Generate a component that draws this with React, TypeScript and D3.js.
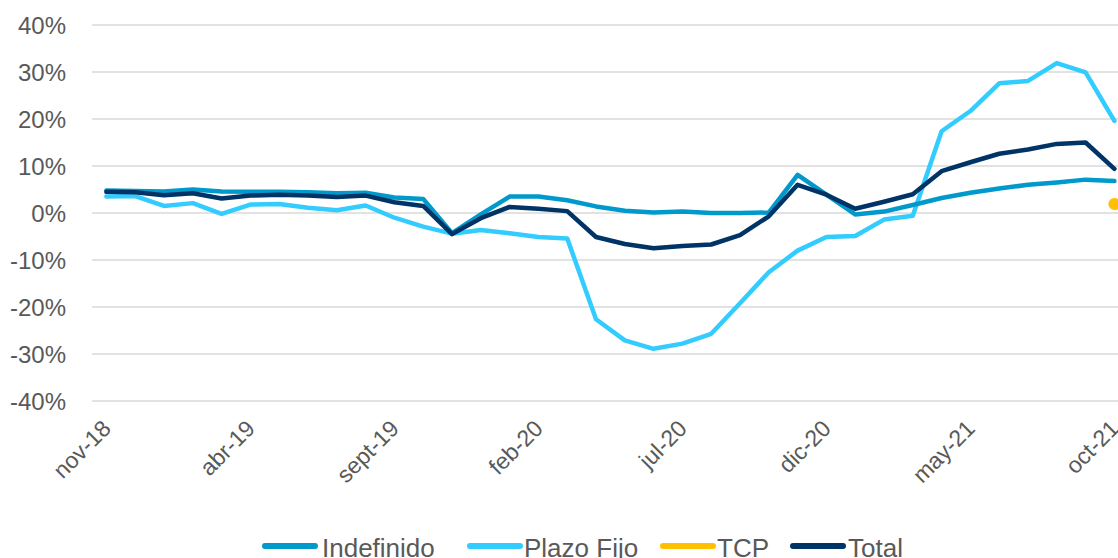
import React from "react";
import * as d3 from "d3";

const months = [
  "nov-18","dic-18","ene-19","feb-19","mar-19","abr-19","may-19","jun-19","jul-19","ago-19","sept-19","oct-19",
  "nov-19","dic-19","ene-20","feb-20","mar-20","abr-20","may-20","jun-20","jul-20","ago-20","sept-20","oct-20",
  "nov-20","dic-20","ene-21","feb-21","mar-21","abr-21","may-21","jun-21","jul-21","ago-21","sept-21","oct-21",
];
const tickLabels = ["nov-18","abr-19","sept-19","feb-20","jul-20","dic-20","may-21","oct-21"];
const yTicks = [40, 30, 20, 10, 0, -10, -20, -30, -40];

const indefinido = [4.8,4.7,4.6,5.0,4.6,4.5,4.5,4.4,4.2,4.3,3.3,3.0,-4.3,-0.3,3.5,3.5,2.7,1.4,0.5,0.1,0.3,0.0,0.0,0.1,8.1,3.9,-0.3,0.3,1.7,3.2,4.3,5.2,6.0,6.5,7.1,6.8];
const plazoFijo = [3.5,3.6,1.5,2.1,-0.2,1.8,1.9,1.1,0.6,1.6,-1.0,-2.9,-4.4,-3.6,-4.3,-5.1,-5.4,-22.6,-27.1,-28.9,-27.8,-25.7,-19.2,-12.6,-8.0,-5.1,-4.9,-1.4,-0.6,17.4,21.7,27.6,28.1,31.9,29.9,19.6];
const tcp: (number | null)[] = [null,null,null,null,null,null,null,null,null,null,null,null,null,null,null,null,null,null,null,null,null,null,null,null,null,null,null,null,null,null,null,null,null,null,null,1.9];
const total = [4.5,4.4,3.8,4.2,3.1,3.7,3.9,3.7,3.4,3.7,2.3,1.5,-4.5,-1.1,1.3,0.9,0.4,-5.1,-6.6,-7.5,-7.0,-6.7,-4.7,-0.7,6.0,3.9,0.9,2.4,4.0,8.9,10.8,12.6,13.5,14.7,15.0,9.4];

const seriesNames = ["Indefinido", "Plazo Fijo", "TCP", "Total"];
const colors = ["#0099CC", "#33CCFF", "#FFC000", "#003366"];

export default function App() {
  const W = 1118, H = 558;
  const left = 92, plotW = 36 * 28.8;
  const x = d3.scalePoint<string>().domain(months).range([left, left + plotW]).padding(0.5);
  const y = d3.scaleLinear().domain([-40, 40]).range([401, 25]);
  const line = d3.line<number>().x((_, i) => x(months[i]) as number).y((d) => y(d));
  const lines = [
    { name: "Plazo Fijo", data: plazoFijo, color: colors[1] },
    { name: "Indefinido", data: indefinido, color: colors[0] },
    { name: "Total", data: total, color: colors[3] },
  ];
  const fmt = (v: number) => `${v}%`;
  const legendItems = [
    { name: seriesNames[0], color: colors[0], lx: 262, tx: 322 },
    { name: seriesNames[1], color: colors[1], lx: 467, tx: 524 },
    { name: seriesNames[2], color: colors[2], lx: 660, tx: 717 },
    { name: seriesNames[3], color: colors[3], lx: 790, tx: 848 },
  ];
  return (
    <svg width={W} height={H} style={{ position: "absolute", left: 0, top: 0, background: "#fff" }}
      fontFamily="'Liberation Sans', Arial, sans-serif">
      {yTicks.map((t) => (
        <g key={t}>
          <line x1={left} x2={left + plotW} y1={y(t)} y2={y(t)} stroke="#D9D9D9" strokeWidth={1.5} />
          <text x={66} y={y(t)} dy="0.36em" textAnchor="end" fontSize={24} fill="#595959">{fmt(t)}</text>
        </g>
      ))}
      {lines.map((s) => (
        <path key={s.name} d={line(s.data) || ""} fill="none" stroke={s.color} strokeWidth={4.5}
          strokeLinejoin="round" strokeLinecap="round" />
      ))}
      {tcp.map((v, i) => v == null ? null : (
        <circle key={i} cx={x(months[i]) as number} cy={y(v)} r={6} fill={colors[2]} />
      ))}
      {tickLabels.map((m) => {
        const px = (x(m) as number) + 6;
        const py = 430;
        return (
          <text key={m} x={px} y={py} transform={`rotate(-45 ${px} ${py})`} textAnchor="end"
            fontSize={23} fill="#595959">{m}</text>
        );
      })}
      {legendItems.map((it) => (
        <g key={it.name}>
          <line x1={it.lx + 3} x2={it.lx + 53} y1={546} y2={546} stroke={it.color} strokeWidth={6} strokeLinecap="round" />
          <text x={it.tx} y={557} fontSize={26} fill="#595959">{it.name}</text>
        </g>
      ))}
    </svg>
  );
}
